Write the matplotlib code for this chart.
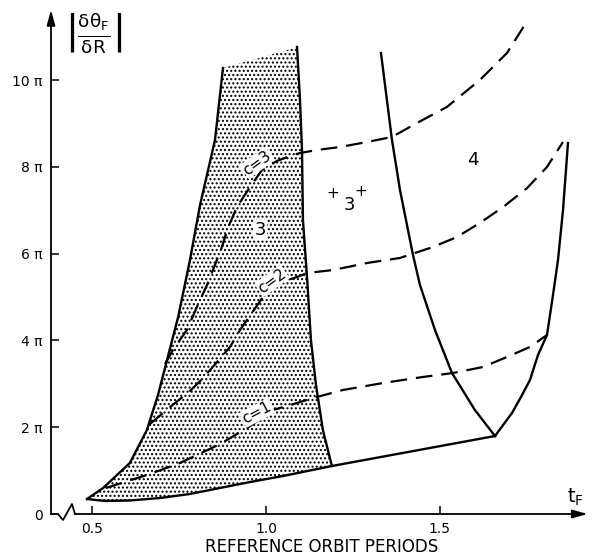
import matplotlib
matplotlib.use("Agg")
import matplotlib.pyplot as plt

# stippled region "3" (boundaries, t_F in reference orbit periods, y in units of pi)
LEFT_T = [0.485, 0.531, 0.608, 0.657, 0.689, 0.715, 0.747, 0.781, 0.810, 0.853, 0.876]
LEFT_Y = [0.346, 0.599, 1.175, 1.935, 2.742, 3.548, 4.539, 5.853, 7.120, 8.618, 10.276]
TOP_T = [0.876, 1.031, 1.089]
TOP_Y = [10.276, 10.622, 10.760]
RIGHT_T = [1.089, 1.0975, 1.1033, 1.106, 1.1177, 1.129, 1.1435, 1.1634, 1.1893]
RIGHT_Y = [10.760, 9.539, 8.387, 6.774, 5.461, 4.009, 2.972, 1.935, 1.106]
BOTTOM_T = [0.485, 0.536, 0.608, 0.695, 0.781, 0.867, 0.954, 1.049, 1.1893, 1.6585]
BOTTOM_Y = [0.346, 0.300, 0.311, 0.369, 0.461, 0.599, 0.737, 0.876, 1.106, 1.797]

# region "4" boundaries
L4_T = [1.3305, 1.3622, 1.3852, 1.4226, 1.4427, 1.4859, 1.5348, 1.6007, 1.6585]
L4_Y = [10.622, 8.618, 7.465, 5.968, 5.276, 4.240, 3.249, 2.396, 1.797]
R4_T = [1.6585, 1.7074, 1.7333, 1.7592, 1.7822, 1.8081, 1.8254, 1.8398, 1.8542, 1.8685]
R4_Y = [1.797, 2.327, 2.696, 3.088, 3.664, 4.124, 5.046, 5.853, 7.005, 8.548]

# dashed c = const curves
C1_T = [0.539, 0.666, 0.752, 0.862, 0.902, 0.954, 1.020, 1.089, 1.146, 1.221, 1.336,
        1.451, 1.538, 1.624, 1.693, 1.759, 1.808]
C1_Y = [0.599, 0.922, 1.175, 1.590, 1.774, 2.028, 2.396, 2.558, 2.696, 2.857, 3.018,
        3.157, 3.249, 3.387, 3.618, 3.848, 4.124]
C2_T = [0.666, 0.724, 0.781, 0.819, 0.859, 0.896, 0.925, 0.959, 0.991, 1.017, 1.054,
        1.089, 1.118, 1.193, 1.290, 1.385, 1.480, 1.549, 1.615, 1.682, 1.751, 1.808, 1.854]
C2_Y = [2.074, 2.465, 2.834, 3.134, 3.502, 3.848, 4.240, 4.631, 5.000, 5.230, 5.369,
        5.461, 5.553, 5.622, 5.783, 5.899, 6.152, 6.382, 6.705, 7.074, 7.512, 7.995, 8.571]
C3_T = [0.709, 0.732, 0.772, 0.810, 0.830, 0.847, 0.870, 0.890, 0.916, 0.954, 0.988,
        1.031, 1.077, 1.098, 1.146, 1.213, 1.290, 1.362, 1.434, 1.520, 1.615, 1.693, 1.753]
C3_Y = [3.456, 3.779, 4.240, 4.931, 5.276, 5.622, 6.083, 6.590, 7.074, 7.535, 7.926,
        8.134, 8.272, 8.318, 8.387, 8.456, 8.571, 8.687, 9.009, 9.378, 10.0, 10.622, 11.382]

C_LABELS = ["c=1", "c=2", "c=3"]
C_LABEL_POS = [(0.974, 2.33), (1.017, 5.37), (0.974, 8.09)]
C_LABEL_ROT = [28, 36, 36]

X_TICKS = [0.5, 1.0, 1.5]
X_TICKLABELS = ["0.5", "1.0", "1.5"]
Y_TICKS = [0, 2, 4, 6, 8, 10]
Y_TICKLABELS = ["0", "2 π", "4 π", "6 π", "8 π", "10 π"]

XLIM = (0.3812, 1.9376)
YLIM = (0, 11.613)

plt.rcParams["hatch.linewidth"] = 1.0

fig = plt.figure(figsize=(5.98, 5.59), dpi=100)
ax = fig.add_axes([51 / 598, 45 / 559, 541 / 598, 504 / 559])
ax.set_xlim(*XLIM)
ax.set_ylim(*YLIM)
for s in ax.spines.values():
    s.set_visible(False)

# stippled area
poly_t = LEFT_T + TOP_T[1:] + RIGHT_T[1:] + BOTTOM_T[-2::-1]
poly_y = LEFT_Y + TOP_Y[1:] + RIGHT_Y[1:] + BOTTOM_Y[-2::-1]
ax.fill(poly_t, poly_y, facecolor="white", edgecolor="black", hatch="....",
        linewidth=0, zorder=1)

lw = 1.7
ax.plot(LEFT_T, LEFT_Y, color="black", lw=lw, zorder=3)
ax.plot(RIGHT_T, RIGHT_Y, color="black", lw=lw, zorder=3)
ax.plot(BOTTOM_T, BOTTOM_Y, color="black", lw=lw, zorder=3)
ax.plot(L4_T, L4_Y, color="black", lw=lw, zorder=3)
ax.plot(R4_T, R4_Y, color="black", lw=lw, zorder=3)

for ct, cy in [(C1_T, C1_Y), (C2_T, C2_Y), (C3_T, C3_Y)]:
    ax.plot(ct, cy, color="black", lw=1.6, dashes=(7.5, 4), zorder=3)

for lab, (x, y), rot in zip(C_LABELS, C_LABEL_POS, C_LABEL_ROT):
    ax.text(x, y, lab, rotation=rot, ha="center", va="center", fontsize=11,
            bbox=dict(facecolor="white", edgecolor="none", pad=0.5), zorder=5)

# region numbers
ax.text(0.9825, 6.54, "3", ha="center", va="center", fontsize=13,
        bbox=dict(facecolor="white", edgecolor="none", pad=0.8), zorder=5)
ax.text(1.239, 7.12, "3", ha="center", va="center", fontsize=13)
ax.text(1.1925, 7.38, "+", ha="center", va="center", fontsize=11)
ax.text(1.273, 7.43, "+", ha="center", va="center", fontsize=11)
ax.text(1.595, 8.16, "4", ha="center", va="center", fontsize=13)

# axes: y with arrow, x with break and arrow
ax.annotate("", xy=(0, 1), xytext=(0, 0), xycoords="axes fraction",
            arrowprops=dict(arrowstyle="-|>,head_length=0.9,head_width=0.25",
                            color="black", lw=1.3, shrinkA=0, shrinkB=0))
BREAK_X = [0.0, 0.0129, 0.0222, 0.0388, 0.0444]
BREAK_Y = [0.0, 0.0, -0.0119, 0.0198, 0.0]
ax.plot(BREAK_X, BREAK_Y, color="black", lw=1.3, transform=ax.transAxes, clip_on=False)
ax.annotate("", xy=(0.992, 0), xytext=(0.0444, 0), xycoords="axes fraction",
            arrowprops=dict(arrowstyle="-|>,head_length=0.9,head_width=0.25",
                            color="black", lw=1.3, shrinkA=0, shrinkB=0))

ax.set_xticks(X_TICKS)
ax.set_xticklabels(X_TICKLABELS, fontsize=10)
ax.set_yticks(Y_TICKS)
ax.set_yticklabels(Y_TICKLABELS, fontsize=10)
ax.tick_params(direction="in", length=6, width=1.1, pad=6)

ax.text(1.889, 0.39, r"$\mathrm{t_F}$", ha="center", va="center", fontsize=14)
ax.text(0.5, -0.065, "REFERENCE ORBIT PERIODS", transform=ax.transAxes,
        ha="center", va="center", fontsize=12)
ax.text(0.078, 0.955,
        r"$\left|\frac{\mathrm{\delta\theta_{F}}}{\mathrm{\delta R}}\right|$",
        transform=ax.transAxes, ha="center", va="center", fontsize=19)

fig.savefig("out.png", dpi=100)
